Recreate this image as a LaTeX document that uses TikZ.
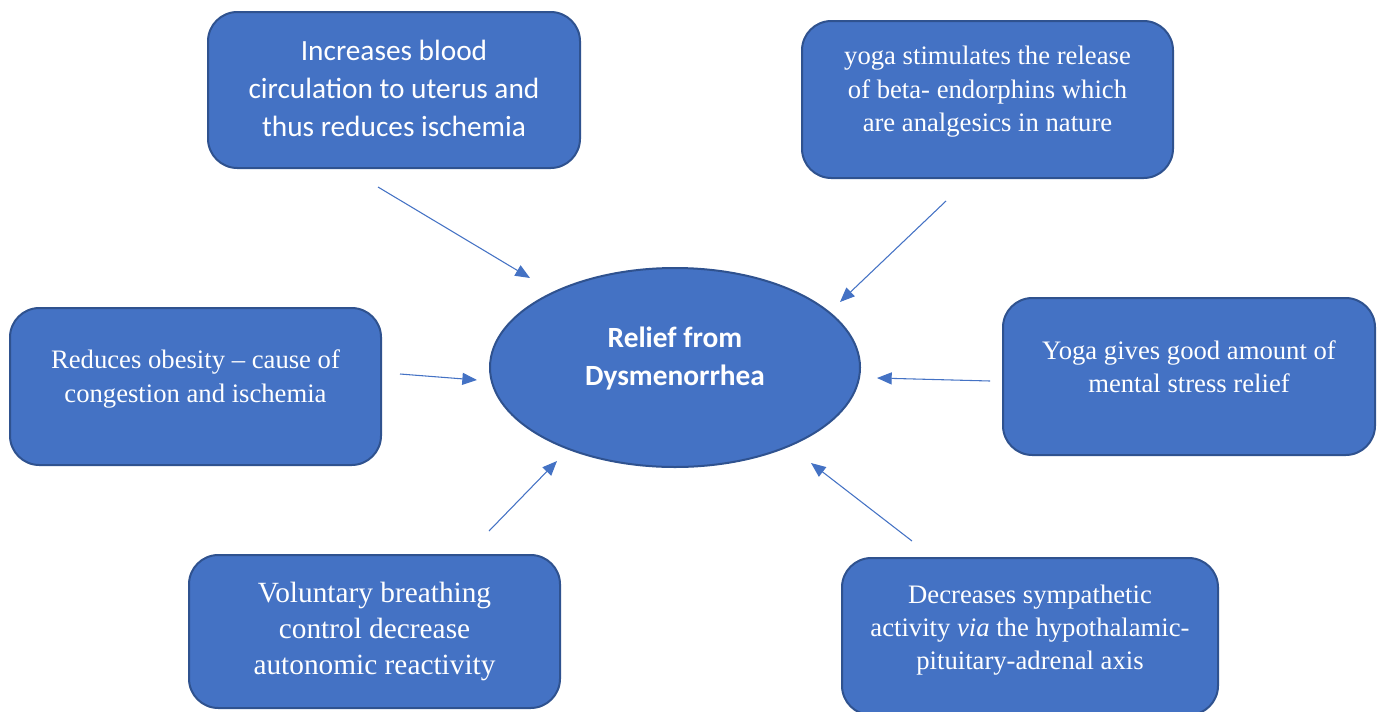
\documentclass[tikz,border=0pt]{standalone}
\usepackage{fontspec}
\setmainfont{Liberation Serif}
\newfontfamily\carlitofont{Carlito}
\usetikzlibrary{arrows.meta,shapes.geometric}
\definecolor{fillblue}{HTML}{4472C4}
\definecolor{edgeblue}{HTML}{2F528F}
\tikzset{
  box/.style={draw=edgeblue, fill=fillblue, line width=1.5pt, rounded corners=22pt, inner sep=0pt, outer sep=0pt},
  oval/.style={ellipse, draw=edgeblue, fill=fillblue, line width=1.5pt, inner sep=0pt, outer sep=0pt},
  txt/.style={text=white, align=center, inner sep=0pt},
  conn/.style={draw=fillblue, line width=0.8pt, -{Triangle[length=11pt,width=9pt]}}
}
\begin{document}
\begin{tikzpicture}[x=0.75pt,y=-0.75pt]
\useasboundingbox (0,0) rectangle (1381,711);
% boxes
\node[box, minimum width=279pt, minimum height=117pt] (b1) at (394,90) {};
\node[box, minimum width=278.25pt, minimum height=117.75pt] (b2) at (987.5,99.5) {};
\node[box, minimum width=278.25pt, minimum height=117.75pt] (b3) at (195.5,386.5) {};
\node[box, minimum width=279pt, minimum height=117.75pt] (b4) at (1189,376.5) {};
\node[box, minimum width=278.25pt, minimum height=114.75pt] (b5) at (374.5,631.5) {};
\node[box, minimum width=282pt, minimum height=117.75pt] (b6) at (1030,636.5) {};
\node[oval, minimum width=277.5pt, minimum height=149.25pt] (c) at (675,367.5) {};
% texts
\node[txt, font=\carlitofont\fontsize{22}{28.5}\selectfont] (t1) at (394,88) {Increases blood\\circulation to uterus and\\thus reduces ischemia};
\node[txt, font=\fontsize{20}{25.1}\selectfont] (t2) at (987.5,92) {yoga stimulates the release\\of beta- endorphins which\\are analgesics in nature};
\node[txt, font=\fontsize{20}{24.8}\selectfont] (t3) at (195.5,379) {Reduces obesity -- cause of\\congestion and ischemia};
\node[txt, font=\fontsize{20}{24.8}\selectfont] (t4) at (1189,367) {Yoga gives good amount of\\mental stress relief};
\node[txt, font=\fontsize{22}{27}\selectfont] (t5) at (374.5,631) {Voluntary breathing\\control decrease\\autonomic reactivity};
\node[txt, font=\fontsize{20}{24.8}\selectfont] (t6) at (1030,630) {Decreases sympathetic\\activity \textit{via} the hypothalamic-\\pituitary-adrenal axis};
\node[txt, font=\carlitofont\bfseries\fontsize{22}{28.5}\selectfont] (tc) at (675,359) {Relief from\\Dysmenorrhea};
% connectors
\coordinate (s1) at (378,187); \coordinate (e1) at (530,278);
\coordinate (s2) at (946,201); \coordinate (e2) at (840,302);
\coordinate (s3) at (400,374); \coordinate (e3) at (477,380);
\coordinate (s4) at (990,381); \coordinate (e4) at (877,378);
\coordinate (s5) at (489,531); \coordinate (e5) at (557,461);
\coordinate (s6) at (912,541); \coordinate (e6) at (811,463);
\draw[conn] (s1) -- (e1);
\draw[conn] (s2) -- (e2);
\draw[conn] (s3) -- (e3);
\draw[conn] (s4) -- (e4);
\draw[conn] (s5) -- (e5);
\draw[conn] (s6) -- (e6);
\end{tikzpicture}
\end{document}
